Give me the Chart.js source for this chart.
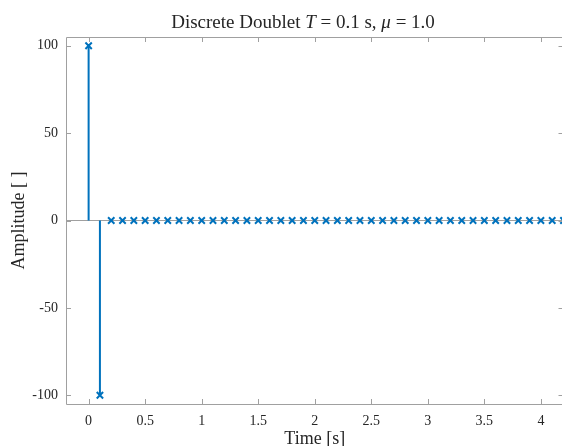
<!DOCTYPE html>
<html>
<head>
<meta charset="utf-8">
<script src="https://cdn.jsdelivr.net/npm/chart.js@4.4.1/dist/chart.umd.min.js"></script>
<style>
	html, body { margin: 0; padding: 0; background: #fff; overflow: hidden; }
	#wrap { width: 570px; height: 446px; }
</style>
</head>
<body>
<div id="wrap"><canvas id="stemChart" width="570" height="446"></canvas></div>
<script>
// sample times [s] and amplitudes of the doublet
var timeValues = [0, 0.1, 0.2, 0.3, 0.4, 0.5, 0.6, 0.7, 0.8, 0.9, 1.0,
	1.1, 1.2, 1.3, 1.4, 1.5, 1.6, 1.7, 1.8, 1.9, 2.0,
	2.1, 2.2, 2.3, 2.4, 2.5, 2.6, 2.7, 2.8, 2.9, 3.0,
	3.1, 3.2, 3.3, 3.4, 3.5, 3.6, 3.7, 3.8, 3.9, 4.0,
	4.1, 4.2];
var amplitudeValues = [100, -100, 0, 0, 0, 0, 0, 0, 0, 0, 0,
	0, 0, 0, 0, 0, 0, 0, 0, 0, 0,
	0, 0, 0, 0, 0, 0, 0, 0, 0, 0,
	0, 0, 0, 0, 0, 0, 0, 0, 0, 0,
	0, 0];
var xTicks = [0, 0.5, 1, 1.5, 2, 2.5, 3, 3.5, 4];
var yTicks = [-100, -50, 0, 50, 100];
var xLimits = [-0.2, 4.2];
var yLimits = [-105, 105];

var stemBlue = '#0072BD';
var axisGrey = '#a0a0a0';
var textColor = '#262626';
var serif = '"Liberation Serif", "Times New Roman", serif';

// build stem segments and marker points from the arrays
var stemPoints = [];
var markerPoints = [];
for (var i = 0; i < timeValues.length; i++) {
	stemPoints.push({ x: timeValues[i], y: 0 });
	stemPoints.push({ x: timeValues[i], y: amplitudeValues[i] });
	stemPoints.push({ x: timeValues[i], y: null });
	markerPoints.push({ x: timeValues[i], y: amplitudeValues[i] });
}

// box, inside ticks, title and axis labels (MATLAB look)
var matlabAxes = {
	id: 'matlabAxes',
	afterDraw: function(chart) {
		var ctx = chart.ctx;
		var a = chart.chartArea;
		var xs = chart.scales.x;
		var ys = chart.scales.y;
		var tick = 5;

		ctx.save();
		ctx.strokeStyle = axisGrey;
		ctx.lineWidth = 1;
		ctx.beginPath();
		ctx.rect(a.left + 0.5, a.top + 0.5, a.right - a.left, a.bottom - a.top);
		xTicks.forEach(function(v) {
			var px = Math.round(xs.getPixelForValue(v)) + 0.5;
			ctx.moveTo(px, a.bottom); ctx.lineTo(px, a.bottom - tick);
			ctx.moveTo(px, a.top); ctx.lineTo(px, a.top + tick);
		});
		yTicks.forEach(function(v) {
			var py = Math.round(ys.getPixelForValue(v)) + 0.5;
			ctx.moveTo(a.left, py); ctx.lineTo(a.left + tick, py);
			ctx.moveTo(a.right, py); ctx.lineTo(a.right - tick, py);
		});
		ctx.stroke();

		// title with italic symbols
		var parts = [
			['Discrete Doublet ', false],
			['T', true],
			[' = 0.1 s, ', false],
			['\u03bc', true],
			[' = 1.0', false]
		];
		ctx.fillStyle = textColor;
		ctx.textBaseline = 'alphabetic';
		ctx.textAlign = 'left';
		var total = 0;
		parts.forEach(function(p) {
			ctx.font = (p[1] ? 'italic ' : '') + '19px ' + serif;
			total += ctx.measureText(p[0]).width;
		});
		var tx = 303 - total / 2;
		parts.forEach(function(p) {
			ctx.font = (p[1] ? 'italic ' : '') + '19px ' + serif;
			ctx.fillText(p[0], tx, 28);
			tx += ctx.measureText(p[0]).width;
		});

		// axis labels
		ctx.font = '18px ' + serif;
		ctx.textAlign = 'center';
		ctx.fillText('Time [s]', (a.left + a.right) / 2, 444);
		ctx.translate(24, (a.top + a.bottom) / 2);
		ctx.rotate(-Math.PI / 2);
		ctx.fillText('Amplitude [ ]', 0, 0);
		ctx.restore();
	}
};

var ctx = document.getElementById('stemChart').getContext('2d');

new Chart(ctx, {
	type: 'scatter',
	data: {
		datasets: [{
			label: 'markers',
			data: markerPoints,
			showLine: false,
			pointStyle: 'crossRot',
			pointRadius: 4.5,
			pointBorderWidth: 2,
			pointBorderColor: stemBlue,
			pointBackgroundColor: stemBlue,
			order: 0
		}, {
			label: 'stems',
			data: stemPoints,
			showLine: true,
			spanGaps: false,
			borderColor: stemBlue,
			borderWidth: 2,
			pointRadius: 0,
			order: 1
		}, {
			label: 'baseline',
			data: [{ x: xLimits[0], y: 0 }, { x: xLimits[1], y: 0 }],
			showLine: true,
			borderColor: axisGrey,
			borderWidth: 1.2,
			pointRadius: 0,
			order: 2
		}]
	},
	options: {
		responsive: false,
		animation: false,
		layout: {
			padding: { top: 37, right: 6, left: 0, bottom: 0 }
		},
		plugins: {
			legend: { display: false },
			title: { display: false },
			tooltip: { enabled: false }
		},
		scales: {
			x: {
				type: 'linear',
				min: xLimits[0],
				max: xLimits[1],
				afterBuildTicks: function(scale) {
					scale.ticks = xTicks.map(function(v) { return { value: v }; });
				},
				afterFit: function(scale) {
					scale.height = 42;
				},
				grid: { display: false, drawTicks: false },
				border: { display: false },
				ticks: {
					padding: 9,
					color: textColor,
					font: { family: serif, size: 14 },
					maxRotation: 0,
					autoSkip: false,
					callback: function(value) { return String(value); }
				}
			},
			y: {
				type: 'linear',
				min: yLimits[0],
				max: yLimits[1],
				afterBuildTicks: function(scale) {
					scale.ticks = yTicks.map(function(v) { return { value: v }; });
				},
				afterFit: function(scale) {
					scale.width = 66;
				},
				grid: { display: false, drawTicks: false },
				border: { display: false },
				ticks: {
					padding: 8,
					color: textColor,
					font: { family: serif, size: 14 },
					autoSkip: false,
					callback: function(value) { return String(value); }
				}
			}
		}
	},
	plugins: [matlabAxes]
});
</script>
</body>
</html>
